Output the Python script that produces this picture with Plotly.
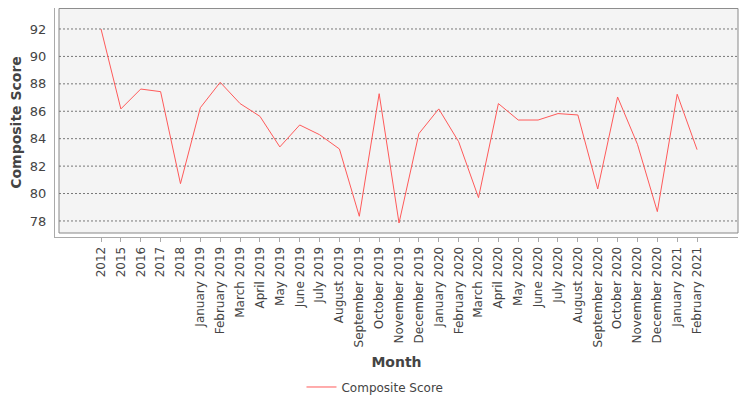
import plotly.graph_objects as go

months = ["2012", "2015", "2016", "2017", "2018",
          "January 2019", "February 2019", "March 2019", "April 2019", "May 2019",
          "June 2019", "July 2019", "August 2019", "September 2019", "October 2019",
          "November 2019", "December 2019", "January 2020", "February 2020", "March 2020",
          "April 2020", "May 2020", "June 2020", "July 2020", "August 2020",
          "September 2020", "October 2020", "November 2020", "December 2020",
          "January 2021", "February 2021"]
scores = [92.0, 86.17, 87.62, 87.43, 80.72,
          86.26, 88.11, 86.56, 85.63, 83.40,
          85.0, 84.29, 83.25, 78.34, 87.28,
          77.85, 84.37, 86.17, 83.78, 79.70,
          86.56, 85.36, 85.36, 85.83, 85.73,
          80.33, 87.04, 83.59, 78.68,
          87.24, 83.20]
y_ticks = [78, 80, 82, 84, 86, 88, 90, 92]

font = "DejaVu Sans"
txt = "#444444"

fig = go.Figure()
fig.add_trace(go.Scatter(x=months, y=scores, mode="lines", name="Composite Score",
                         line=dict(color="#ff5a5a", width=1), showlegend=True))

# frame (plot area drawn slightly inside the axis lines, like the original)
fx0 = 4 / 683
fy0 = 4 / 229
shapes = [dict(type="rect", xref="paper", yref="paper", x0=fx0, x1=1, y0=fy0, y1=0.998,
               fillcolor="#f4f4f4", line=dict(color="#888888", width=1), layer="below")]
for v in y_ticks:
    shapes.append(dict(type="line", xref="paper", yref="y", x0=fx0, x1=1, y0=v, y1=v,
                       line=dict(color="#777777", width=1, dash="2px,2px"), layer="below"))

# page body has an 8px margin, so the figure is 8px smaller than the window
fig.update_layout(
    width=742, height=392,
    margin=dict(l=47, r=12, t=0, b=163, autoexpand=False),
    paper_bgcolor="white", plot_bgcolor="white",
    font=dict(family=font, size=12, color=txt),
    shapes=shapes,
    showlegend=True,
    legend=dict(orientation="h", x=0.4685, xanchor="center", y=-0.655, yanchor="middle",
                itemwidth=30, font=dict(size=12, color=txt)),
    xaxis=dict(type="category", range=[-2.315, 32.06], showgrid=False, zeroline=False,
               automargin=False,
               showline=True, linecolor="#aaaaaa", linewidth=1,
               ticks="outside", ticklen=4, tickcolor="#aaaaaa",
               tickangle=-90, tickfont=dict(size=12, color=txt),
               title=dict(text="<b>Month</b>", font=dict(size=14, color=txt), standoff=10)),
    yaxis=dict(range=[76.83, 93.53], tickvals=y_ticks, showgrid=False, zeroline=False,
               automargin=False,
               showline=True, linecolor="#aaaaaa", linewidth=1,
               ticks="", ticklabelstandoff=5, tickfont=dict(size=13, color=txt),
               title=dict(text="<b>Composite Score</b>", font=dict(size=14, color=txt), standoff=6)),
)

fig.write_html("out.html")
